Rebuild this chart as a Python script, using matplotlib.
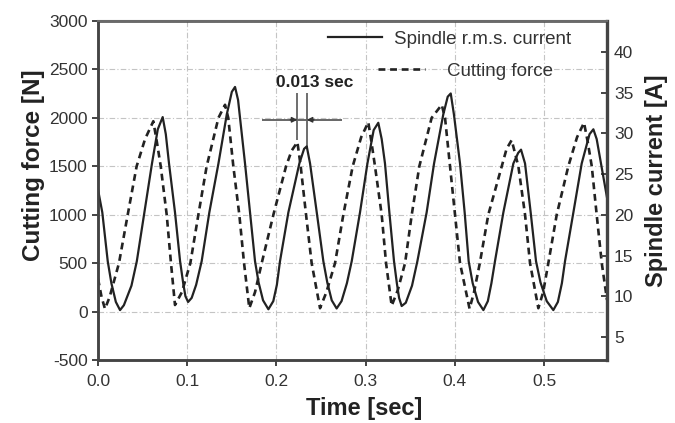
import matplotlib.pyplot as plt
from matplotlib.lines import Line2D

# Spindle r.m.s. current
t_current = [0.000, 0.0048, 0.0109, 0.015, 0.020, 0.0247, 0.029, 0.0375, 0.0435, 0.052,
             0.0605, 0.067, 0.0725, 0.076, 0.0796, 0.0863, 0.092, 0.0955, 0.098, 0.101,
             0.105, 0.110, 0.1162, 0.1248, 0.135, 0.1443, 0.150, 0.1536, 0.157, 0.1648,
             0.1704, 0.176, 0.180, 0.185, 0.191, 0.1965, 0.2005, 0.204, 0.2134, 0.2257,
             0.231, 0.234, 0.2377, 0.2452, 0.2526, 0.257, 0.262, 0.2675, 0.273, 0.279,
             0.2844, 0.2937, 0.302, 0.309, 0.3142, 0.318, 0.3217, 0.3266, 0.3318, 0.335,
             0.3375, 0.3404, 0.345, 0.352, 0.358, 0.3684, 0.3767, 0.387, 0.392, 0.3954,
             0.399, 0.4058, 0.411, 0.4155, 0.420, 0.426, 0.432, 0.437, 0.441, 0.445,
             0.4544, 0.4656, 0.471, 0.4742, 0.4787, 0.485, 0.491, 0.496, 0.503, 0.5104,
             0.5155, 0.520, 0.5235, 0.5329, 0.5422, 0.551, 0.5553, 0.559, 0.5706]
current_a = [23.1, 20.3, 14.3, 11.6, 9.3, 8.3, 8.9, 11.3, 14.3, 20.3,
             26.3, 30.5, 32.0, 29.9, 26.3, 20.3, 14.3, 11.6, 10.0, 9.3,
             9.8, 11.4, 14.3, 20.3, 26.3, 32.3, 35.1, 35.7, 34.1, 26.3,
             20.3, 14.3, 11.7, 9.5, 8.4, 9.4, 11.4, 14.3, 20.3, 26.3,
             28.1, 28.4, 26.3, 20.3, 14.3, 11.7, 9.5, 8.5, 9.4, 11.6,
             14.3, 20.3, 26.3, 30.4, 31.3, 29.3, 26.3, 20.3, 14.3, 11.6,
             9.8, 8.8, 9.2, 11.3, 14.3, 20.3, 26.3, 32.3, 34.5, 34.9,
             32.3, 26.3, 20.3, 14.3, 11.6, 9.3, 8.3, 9.4, 11.6, 14.3,
             20.3, 26.3, 27.6, 28.0, 26.3, 20.3, 14.3, 11.7, 9.4, 8.3,
             9.3, 11.6, 14.3, 20.3, 26.3, 29.9, 30.5, 29.3, 22.1]

# Cutting force
t_force = [0.000, 0.004, 0.0078, 0.013, 0.0235, 0.0333, 0.0433, 0.0527, 0.062, 0.066,
           0.0703, 0.077, 0.0818, 0.0863, 0.094, 0.1035, 0.1125, 0.1218, 0.135, 0.1424,
           0.146, 0.1517, 0.1584, 0.1637, 0.1696, 0.176, 0.1835, 0.1966, 0.2108, 0.217,
           0.2235, 0.2272, 0.2332, 0.2395, 0.2489, 0.256, 0.2657, 0.275, 0.2855, 0.295,
           0.303, 0.3065, 0.3105, 0.318, 0.3229, 0.3292, 0.336, 0.3442, 0.3517, 0.3602,
           0.374, 0.3853, 0.389, 0.3946, 0.4002, 0.4058, 0.4165, 0.4215, 0.428, 0.4375,
           0.4526, 0.458, 0.4637, 0.4712, 0.4787, 0.4843, 0.4936, 0.499, 0.5048, 0.5142,
           0.5272, 0.537, 0.5448, 0.549, 0.5535, 0.559, 0.5647, 0.5706]
force_n = [340, 150, 28, 150, 500, 1000, 1500, 1780, 1965, 1750,
           1500, 1000, 500, 68, 200, 500, 1000, 1500, 2000, 2135,
           2000, 1500, 1000, 500, 35, 200, 500, 1000, 1500, 1660,
           1750, 1500, 1000, 500, 35, 200, 500, 1000, 1500, 1800,
           1955, 1750, 1500, 1000, 500, 60, 220, 500, 1000, 1500,
           2000, 2135, 2000, 1500, 1000, 500, 30, 200, 500, 1000,
           1500, 1680, 1770, 1500, 1000, 500, 35, 200, 500, 1000,
           1500, 1800, 1950, 1750, 1500, 1000, 500, 120]

x_ticks = [0.0, 0.1, 0.2, 0.3, 0.4, 0.5]
force_ticks = [-500, 0, 500, 1000, 1500, 2000, 2500, 3000]
current_ticks = [5, 10, 15, 20, 25, 30, 35, 40]

# phase shift marker: peak of force vs peak of current
lag_t = [0.2235, 0.234]
lag_label = "0.013 sec"

plt.rcParams['font.family'] = ['Liberation Sans', 'DejaVu Sans']
plt.rcParams['axes.unicode_minus'] = False
ink = '#222222'
axis_col = '#444444'

fig = plt.figure(figsize=(6.75, 4.23), dpi=100)
ax = fig.add_axes([0.1452, 0.1489, 0.7541, 0.8015])
ax2 = ax.twinx()

ax2.plot(t_current, current_a, color=ink, lw=1.6, solid_joinstyle='round')
ax.plot(t_force, force_n, color=ink, lw=1.9, dashes=(2.6, 1.8))

ax.set_xlim(0, 0.5706)
ax.set_ylim(-500, 3000)
ax2.set_ylim(2.17, 43.8)
ax.set_xticks(x_ticks)
ax.set_xticklabels([f"{v:.1f}" for v in x_ticks])
ax.set_yticks(force_ticks)
ax2.set_yticks(current_ticks)

ax.grid(True, color='#c4c4c4', lw=0.8, ls=(0, (5, 2, 1, 2)))
ax.set_axisbelow(True)

for a in (ax, ax2):
    for side in a.spines.values():
        side.set_color(axis_col)
        side.set_linewidth(1.8)
ax2.spines['right'].set_linewidth(2.4)
ax2.spines['top'].set_color('#6a6a6a')
ax2.spines['top'].set_linewidth(1.5)

ax.tick_params(axis='both', direction='out', length=4, width=1.4, color=axis_col,
               labelsize=12.5, labelcolor='#333333')
ax.tick_params(axis='x', pad=6)
ax2.tick_params(axis='y', direction='in', length=4, width=1.4, color=axis_col,
                labelsize=12.5, labelcolor='#333333', pad=5)

ax.set_xlabel('Time [sec]', fontsize=17, fontweight='bold', color=ink, labelpad=6, x=0.523)
ax.set_ylabel('Cutting force [N]', fontsize=17.5, fontweight='bold', color=ink, labelpad=3, y=0.575)
ax2.set_ylabel('Spindle current [A]', fontsize=17, fontweight='bold', color=ink,
               rotation=90, labelpad=8, y=0.53)

# legends (two rows offset like the original)
leg1 = ax.legend([Line2D([], [], color=ink, lw=1.6)], ['Spindle r.m.s. current'],
                 loc='center left', bbox_to_anchor=(0.452, 0.947), frameon=False,
                 fontsize=13.5, handlelength=2.9, handletextpad=0.6,
                 borderpad=0, borderaxespad=0, labelcolor='#333333')
ax.add_artist(leg1)
ax.legend([Line2D([], [], color=ink, lw=1.9, dashes=(2.6, 1.8))], ['Cutting force'],
          loc='center left', bbox_to_anchor=(0.550, 0.8525), frameon=False,
          fontsize=13.5, handlelength=2.5, handletextpad=1.2,
          borderpad=0, borderaxespad=0, labelcolor='#333333')

# 0.013 sec annotation
ax.vlines(lag_t[0], 1775, 2260, color='#555555', lw=1.2)
ax.vlines(lag_t[1], 1680, 2260, color='#555555', lw=1.2)
ax.hlines(1980, 0.184, 0.273, color='#666666', lw=1.4)
ax.annotate('', xy=(lag_t[0], 1980), xytext=(lag_t[0] - 0.008, 1980),
            arrowprops=dict(arrowstyle='-|>', color='#333333', lw=1.0, mutation_scale=8,
                            shrinkA=0, shrinkB=0))
ax.annotate('', xy=(lag_t[1], 1980), xytext=(lag_t[1] + 0.008, 1980),
            arrowprops=dict(arrowstyle='-|>', color='#333333', lw=1.0, mutation_scale=8,
                            shrinkA=0, shrinkB=0))
ax.text(0.1995, 2370, lag_label, fontsize=12.5, fontweight='bold', color=ink,
        ha='left', va='center')

fig.savefig('out.png', dpi=100)
